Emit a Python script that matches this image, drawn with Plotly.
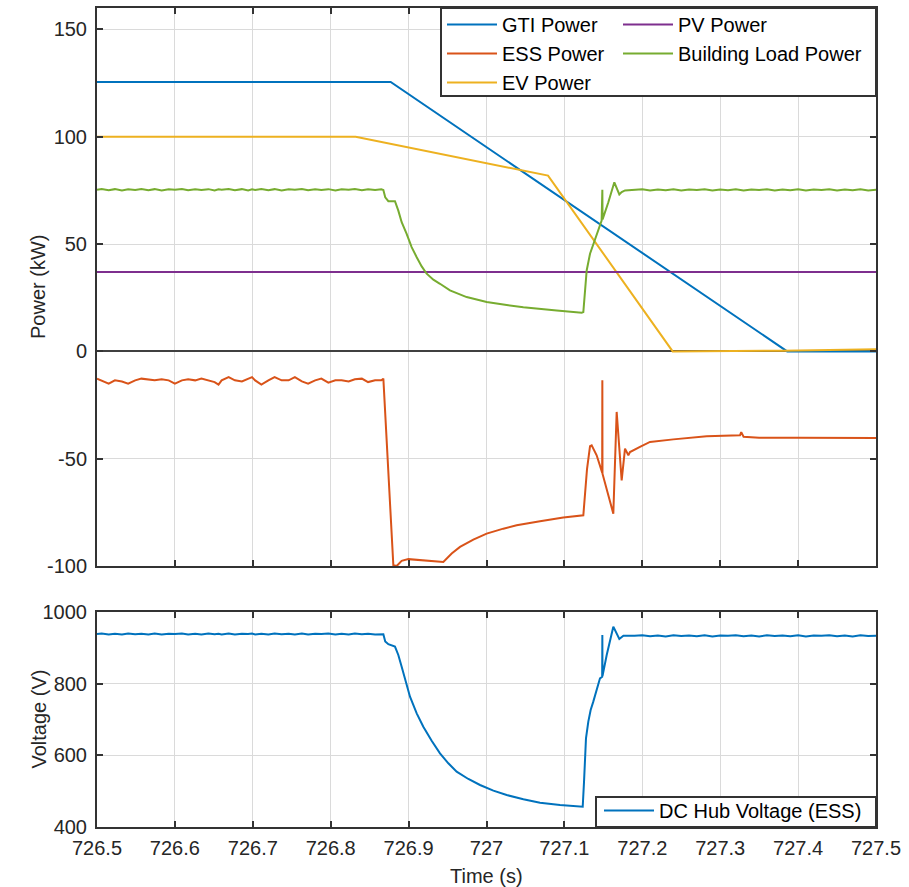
import plotly.graph_objects as go

# ---------------- data ----------------
# common sample instants for the steady pre-disturbance window (s)
t_pre = [726.500, 726.506, 726.515, 726.523, 726.532, 726.540, 726.549, 726.557,
         726.566, 726.574, 726.583, 726.592, 726.600, 726.609, 726.617, 726.626,
         726.634, 726.643, 726.651, 726.656, 726.660, 726.669, 726.677, 726.686,
         726.694, 726.699, 726.703, 726.711, 726.720, 726.728, 726.737, 726.746,
         726.754, 726.763, 726.771, 726.780, 726.788, 726.797, 726.806, 726.814,
         726.823, 726.831, 726.840, 726.848, 726.857, 726.865]
# sample instants for the steady post-disturbance window (s)
t_post = [727.19, 727.20, 727.21, 727.22, 727.23, 727.24, 727.25, 727.26,
          727.27, 727.28, 727.29, 727.30, 727.31, 727.32, 727.33, 727.34,
          727.35, 727.36, 727.37, 727.38, 727.39, 727.40, 727.41, 727.42,
          727.43, 727.44, 727.45, 727.46, 727.47, 727.48, 727.49, 727.50]

# GTI power (kW)
gti_t = [726.500, 726.877, 727.386, 727.500]
gti_p = [125.5, 125.5, 0.0, 0.0]

# EV power (kW)
ev_t = [726.500, 726.832, 727.079, 727.239, 727.380, 727.500]
ev_p = [100.0, 100.0, 81.9, 0.0, 0.3, 1.0]

# PV power (kW)
pv_t = [726.500, 727.500]
pv_p = [37.0, 37.0]

# ESS power (kW)
ess_pre = [-12.7, -13.5, -15.0, -13.5, -14.0, -15.0, -13.5, -12.7, -13.0, -13.5,
           -13.0, -13.5, -15.0, -13.5, -13.0, -13.5, -12.7, -13.5, -14.3, -15.5,
           -13.5, -12.0, -13.5, -14.0, -12.7, -12.0, -13.5, -15.5, -13.5, -12.0,
           -13.5, -13.5, -12.0, -14.0, -15.0, -13.5, -12.7, -14.6, -13.5, -13.5,
           -14.0, -13.0, -12.7, -14.3, -13.5, -13.5]
ess_evt_t = [726.8676, 726.8804, 726.8847, 726.8911, 726.8997, 726.9080, 726.9189,
             726.9300, 726.9446, 726.9553, 726.9660, 726.9831, 727.0002, 727.0216,
             727.0387, 727.0687, 727.0986, 727.1243, 727.1290, 727.1329, 727.1350,
             727.1414, 727.1457, 727.1485, 727.1487, 727.1489, 727.1628, 727.1671,
             727.1735, 727.1778, 727.1821, 727.1842, 727.1970, 727.2099, 727.2398,
             727.2826, 727.3254, 727.3270, 727.3300, 727.3500, 727.4000, 727.4500,
             727.5000]
ess_evt_p = [-12.7, -99.6, -100.0, -97.6, -96.8, -97.1, -97.3,
             -97.7, -98.1, -94.2, -91.1, -87.7, -84.9, -82.6,
             -81.0, -79.1, -77.4, -76.4, -55.0, -44.2, -43.8,
             -48.4, -53.9, -56.5, -13.5, -57.0, -75.6, -28.2,
             -60.1, -45.3, -48.4, -46.9, -44.5, -42.2, -41.0,
             -39.6, -39.1, -37.6, -39.8, -40.2, -40.3, -40.3,
             -40.4]

# Building load power (kW)
load_pre = [75.3, 75.7, 75.1, 75.6, 75.0, 75.5, 75.2, 75.7, 75.1, 75.6,
            75.0, 75.5, 75.3, 75.7, 75.1, 75.6, 75.2, 75.6, 75.0, 75.5,
            75.3, 75.7, 75.1, 75.6, 75.0, 75.5, 75.2, 75.7, 75.1, 75.6,
            75.0, 75.5, 75.3, 75.7, 75.1, 75.6, 75.2, 75.6, 75.0, 75.5,
            75.3, 75.7, 75.1, 75.6, 75.2, 75.5]
load_evt_t = [726.8676, 726.8700, 726.8740, 726.8825, 726.8868, 726.8911, 726.8975,
              726.9039, 726.9104, 726.9168, 726.9232, 726.9318, 726.9403, 726.9531,
              726.9745, 727.0002, 727.0259, 727.0473, 727.0901, 727.1222, 727.1243,
              727.1264, 727.1286, 727.1329, 727.1414, 727.1478, 727.1487, 727.1490,
              727.1564, 727.1641, 727.1705, 727.1735, 727.1778]
load_evt_p = [75.2, 71.8, 70.0, 70.0, 65.6, 60.2, 54.8,
              48.6, 43.9, 39.6, 36.2, 33.4, 31.5, 28.4,
              25.3, 23.0, 21.6, 20.6, 19.1, 18.0, 18.3,
              26.8, 37.7, 45.5, 54.0, 61.0, 75.3, 61.5,
              69.5, 78.8, 73.1, 74.2, 75.0]
load_post = [75.2, 75.5, 75.0, 75.4, 75.1, 75.5, 75.0, 75.4, 75.2, 75.5,
             75.0, 75.4, 75.1, 75.5, 75.0, 75.4, 75.2, 75.5, 75.0, 75.4,
             75.1, 75.5, 75.0, 75.4, 75.2, 75.5, 75.0, 75.4, 75.1, 75.5,
             75.0, 75.3]

# DC hub voltage (V)
vdc_pre = [938.5, 940.0, 937.5, 939.5, 937.0, 940.0, 938.0, 939.5, 937.5, 940.0,
           937.0, 939.5, 938.5, 940.0, 937.5, 939.5, 937.0, 940.0, 938.0, 939.5,
           937.5, 940.0, 937.0, 939.5, 938.5, 940.0, 937.5, 939.5, 937.0, 940.0,
           938.0, 939.5, 937.5, 940.0, 937.0, 939.5, 938.5, 940.0, 937.5, 939.5,
           937.0, 940.0, 938.0, 939.5, 937.5, 939.0]
vdc_evt_t = [726.8676, 726.8700, 726.8740, 726.8825, 726.8868, 726.8911, 726.8954,
             726.9018, 726.9104, 726.9189, 726.9296, 726.9403, 726.9510, 726.9617,
             726.9767, 726.9917, 727.0088, 727.0259, 727.0473, 727.0687, 727.0944,
             727.1235, 727.1252, 727.1264, 727.1277, 727.1307, 727.1337, 727.1371,
             727.1414, 727.1457, 727.1485, 727.1487, 727.1489, 727.1543, 727.1628,
             727.1705, 727.1757]
vdc_evt_v = [938.0, 918.0, 910.0, 903.3, 880.0, 847.4, 814.9,
             763.7, 717.2, 680.0, 640.9, 605.6, 577.7, 554.4,
             534.0, 517.2, 501.4, 489.3, 477.2, 467.9, 461.4,
             456.7, 526.5, 591.6, 647.4, 694.0, 726.5, 749.8,
             782.3, 814.9, 819.5, 935.8, 821.0, 880.0, 959.1,
             924.6, 934.0]
vdc_post = [933.5, 935.0, 932.5, 934.5, 932.0, 935.0, 933.0, 934.5, 932.5, 935.0,
            932.0, 934.5, 933.5, 935.0, 932.5, 934.5, 932.0, 935.0, 933.0, 934.5,
            932.5, 935.0, 932.0, 934.5, 933.5, 935.0, 932.5, 934.5, 932.0, 935.0,
            933.0, 934.0]

# axis ticks
x_ticks = [726.5, 726.6, 726.7, 726.8, 726.9, 727.0, 727.1, 727.2, 727.3, 727.4, 727.5]
x_labels = ["726.5", "726.6", "726.7", "726.8", "726.9", "727", "727.1", "727.2",
            "727.3", "727.4", "727.5"]
p_ticks = [-100, -50, 0, 50, 100, 150]
p_labels = ["-100", "-50", "0", "50", "100", "150"]
v_ticks = [400, 600, 800, 1000]
v_labels = ["400", "600", "800", "1000"]

# ---------------- styling ----------------
C_BLUE = "#0072BD"
C_ORANGE = "#D95319"
C_YELLOW = "#EDB120"
C_PURPLE = "#7E2F8E"
C_GREEN = "#77AC30"
AX = "#333333"
GRID = "#dadada"
TXT = "#262626"
FONT = "Liberation Sans, Arial, sans-serif"
LW = 2

W, H = 909, 887
ML, MR, MT, MB = 97, 33, 8, 60
plot_h = H - MT - MB


def frac_y(py):
    return (H - MB - py) / plot_h


def frac_x(px):
    return (px - ML) / (W - ML - MR)


fig = go.Figure()

fig.add_trace(go.Scatter(x=gti_t, y=gti_p, mode="lines", name="GTI Power",
                         line=dict(color=C_BLUE, width=LW), legend="legend",
                         xaxis="x", yaxis="y"))
fig.add_trace(go.Scatter(x=t_pre + ess_evt_t, y=ess_pre + ess_evt_p, mode="lines",
                         name="ESS Power", line=dict(color=C_ORANGE, width=LW),
                         legend="legend", xaxis="x", yaxis="y"))
fig.add_trace(go.Scatter(x=ev_t, y=ev_p, mode="lines", name="EV Power",
                         line=dict(color=C_YELLOW, width=LW), legend="legend",
                         xaxis="x", yaxis="y"))
fig.add_trace(go.Scatter(x=pv_t, y=pv_p, mode="lines", name="PV Power",
                         line=dict(color=C_PURPLE, width=LW), legend="legend2",
                         xaxis="x", yaxis="y"))
fig.add_trace(go.Scatter(x=t_pre + load_evt_t + t_post, y=load_pre + load_evt_p + load_post,
                         mode="lines", name="Building Load Power",
                         line=dict(color=C_GREEN, width=LW), legend="legend2",
                         xaxis="x", yaxis="y"))
fig.add_trace(go.Scatter(x=t_pre + vdc_evt_t + t_post, y=vdc_pre + vdc_evt_v + vdc_post,
                         mode="lines", name="DC Hub Voltage (ESS)",
                         line=dict(color=C_BLUE, width=LW), legend="legend3",
                         xaxis="x2", yaxis="y2"))

axis_common = dict(showline=True, linecolor=AX, linewidth=2, mirror="ticks",
                   ticks="inside", ticklen=6, tickwidth=1.5, tickcolor=AX,
                   showgrid=True, gridcolor=GRID, gridwidth=1, automargin=False,
                   tickfont=dict(family=FONT, size=20, color=TXT))

top_dom = [frac_y(566), 1.0]
bot_dom = [0.0, frac_y(612)]

legend_font = dict(family=FONT, size=20, color="#000000")

fig.update_layout(
    template="none",
    width=W, height=H,
    margin=dict(l=ML, r=MR, t=MT, b=MB, autoexpand=False),
    paper_bgcolor="white", plot_bgcolor="white",
    font=dict(family=FONT, size=20, color=TXT),
    xaxis=dict(domain=[0, 1], anchor="y", range=[726.5, 727.5],
               tickvals=x_ticks, ticktext=x_labels, showticklabels=False,
               zeroline=False, **axis_common),
    yaxis=dict(domain=top_dom, anchor="x", range=[-100, 160],
               tickvals=p_ticks, ticktext=p_labels, ticklabelstandoff=4,
               zeroline=True, zerolinecolor="#404040", zerolinewidth=2,
               **axis_common),
    xaxis2=dict(domain=[0, 1], anchor="y2", range=[726.5, 727.5], matches="x",
                tickvals=x_ticks, ticktext=x_labels, ticklabelstandoff=2,
                zeroline=False, **axis_common),
    yaxis2=dict(domain=bot_dom, anchor="x2", range=[400, 1000],
                tickvals=v_ticks, ticktext=v_labels, ticklabelstandoff=4,
                zeroline=False, **axis_common),
    legend=dict(x=frac_x(442), y=frac_y(5), xanchor="left", yanchor="top",
                bgcolor="rgba(0,0,0,0)", borderwidth=0, itemwidth=50,
                tracegroupgap=0, font=legend_font),
    legend2=dict(x=frac_x(618), y=frac_y(5), xanchor="left", yanchor="top",
                 bgcolor="rgba(0,0,0,0)", borderwidth=0, itemwidth=50,
                 tracegroupgap=0, font=legend_font),
    legend3=dict(x=frac_x(599), y=frac_y(791), xanchor="left", yanchor="top",
                 bgcolor="rgba(0,0,0,0)", borderwidth=0, itemwidth=50,
                 font=legend_font),
    shapes=[
        dict(type="rect", xref="paper", yref="paper",
             x0=frac_x(441), x1=1.0, y0=frac_y(96), y1=1.0,
             fillcolor="white", line=dict(color=AX, width=2), layer="above"),
        dict(type="rect", xref="paper", yref="paper",
             x0=frac_x(596), x1=1.0, y0=0.0, y1=frac_y(797),
             fillcolor="white", line=dict(color=AX, width=2), layer="above"),
    ],
    annotations=[
        dict(text="Power (kW)", xref="paper", yref="paper", x=frac_x(38),
             y=(top_dom[0] + top_dom[1]) / 2, textangle=-90, showarrow=False,
             xanchor="center", yanchor="middle", font=dict(family=FONT, size=20, color=TXT)),
        dict(text="Voltage (V)", xref="paper", yref="paper", x=frac_x(38),
             y=(bot_dom[0] + bot_dom[1]) / 2, textangle=-90, showarrow=False,
             xanchor="center", yanchor="middle", font=dict(family=FONT, size=20, color=TXT)),
        dict(text="Time (s)", xref="paper", yref="paper", x=0.5, y=frac_y(876),
             showarrow=False, xanchor="center", yanchor="middle",
             font=dict(family=FONT, size=20, color=TXT)),
    ],
)

fig.write_html("out.html")
